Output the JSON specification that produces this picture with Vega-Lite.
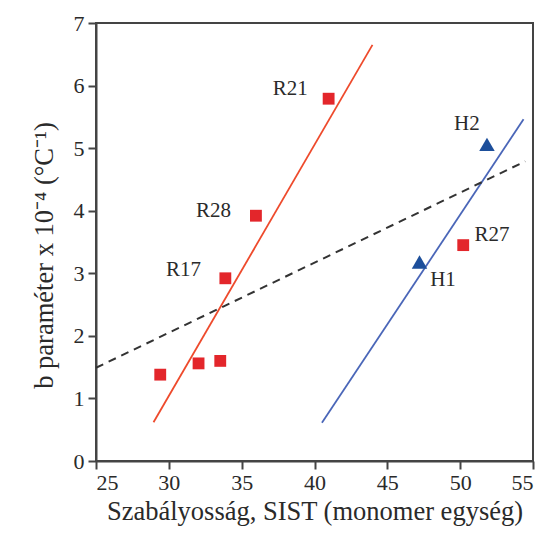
{
  "$schema": "https://vega.github.io/schema/vega-lite/v6.json",
  "width": 437,
  "height": 438,
  "autosize": "none",
  "padding": {"left": 96, "top": 23, "right": 12, "bottom": 72},
  "config": {
    "view": {"stroke": "#444", "strokeWidth": 2},
    "axis": {
      "grid": false,
      "domainColor": "#444",
      "domainWidth": 2,
      "tickColor": "#444",
      "tickWidth": 2,
      "tickSize": 8,
      "labelFont": "Liberation Serif",
      "labelFontSize": 22,
      "labelColor": "#2a2a2a",
      "titleFont": "Liberation Serif",
      "titleFontSize": 26.5,
      "titleFontWeight": "normal",
      "titleColor": "#2a2a2a"
    },
    "text": {"font": "Liberation Serif", "fontSize": 21, "color": "#2a2a2a"}
  },
  "datasets": {
    "lines": [
      {"x": 28.95, "y": 0.62, "series": "red"},
      {"x": 43.98, "y": 6.65, "series": "red"},
      {"x": 40.51, "y": 0.61, "series": "blue"},
      {"x": 54.35, "y": 5.46, "series": "blue"},
      {"x": 25.0, "y": 1.49, "series": "dash"},
      {"x": 54.47, "y": 4.79, "series": "dash"}
    ],
    "points": [
      {"x": 40.97, "y": 5.79, "type": "R"},
      {"x": 35.98, "y": 3.92, "type": "R"},
      {"x": 33.88, "y": 2.92, "type": "R"},
      {"x": 29.41, "y": 1.38, "type": "R"},
      {"x": 32.04, "y": 1.56, "type": "R"},
      {"x": 33.53, "y": 1.6, "type": "R"},
      {"x": 50.21, "y": 3.45, "type": "R"},
      {"x": 47.21, "y": 3.18, "type": "H"},
      {"x": 51.84, "y": 5.06, "type": "H"}
    ],
    "labels": [
      {"x": 38.34, "y": 5.95, "label": "R21"},
      {"x": 33.07, "y": 4.0, "label": "R28"},
      {"x": 31.01, "y": 3.05, "label": "R17"},
      {"x": 52.18, "y": 3.61, "label": "R27"},
      {"x": 48.82, "y": 2.89, "label": "H1"},
      {"x": 50.46, "y": 5.39, "label": "H2"}
    ]
  },
  "encoding": {
    "x": {
      "field": "x", "type": "quantitative",
      "scale": {"domain": [25, 55], "nice": false, "zero": false},
      "axis": {"values": [25, 30, 35, 40, 45, 50, 55], "title": "Szabályosság, SIST (monomer egység)", "titlePadding": 5, "labelPadding": 3}
    },
    "y": {
      "field": "y", "type": "quantitative",
      "scale": {"domain": [0, 7], "nice": false},
      "axis": {"values": [0, 1, 2, 3, 4, 5, 6, 7], "title": "b paraméter x 10⁻⁴ (°C⁻¹)", "titlePadding": 15, "labelPadding": 4, "titleY": 232}
    }
  },
  "layer": [
    {
      "data": {"name": "lines"},
      "transform": [{"filter": "datum.series == 'red'"}],
      "mark": {"type": "line", "color": "#ee4a2c", "strokeWidth": 1.8},
      "encoding": {}
    },
    {
      "data": {"name": "lines"},
      "transform": [{"filter": "datum.series == 'blue'"}],
      "mark": {"type": "line", "color": "#4a66b8", "strokeWidth": 1.8},
      "encoding": {}
    },
    {
      "data": {"name": "lines"},
      "transform": [{"filter": "datum.series == 'dash'"}],
      "mark": {"type": "line", "color": "#333", "strokeWidth": 2, "strokeDash": [8, 6]},
      "encoding": {}
    },
    {
      "data": {"name": "points"},
      "transform": [{"filter": "datum.type == 'R'"}],
      "mark": {"type": "square", "color": "#e3262b", "opacity": 1, "size": 140}
    },
    {
      "data": {"name": "points"},
      "transform": [{"filter": "datum.type == 'H'"}],
      "mark": {"type": "point", "shape": "triangle-up", "filled": true, "color": "#1d4f9b", "opacity": 1, "size": 240}
    },
    {
      "data": {"name": "labels"},
      "mark": {"type": "text", "align": "center", "baseline": "middle"},
      "encoding": {"text": {"field": "label"}}
    }
  ]
}
